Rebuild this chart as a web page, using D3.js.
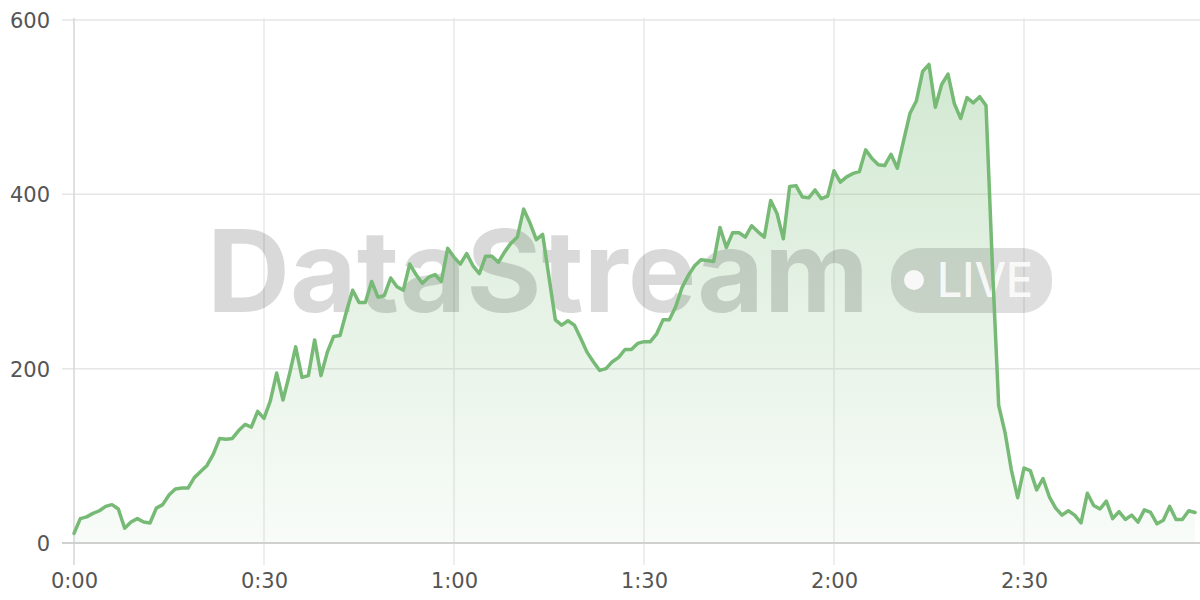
<!DOCTYPE html>
<html>
<head>
<meta charset="utf-8">
<script src="https://cdn.jsdelivr.net/npm/d3@7"></script>
<style>
  html, body { margin: 0; padding: 0; background: #ffffff; }
  svg { display: block; }
</style>
</head>
<body>
<svg id="chart" width="1200" height="600"></svg>
<script>
// ---- data (one value per minute, starting at 0:00) ----
const values = [
  11, 28, 30, 34, 37, 42, 44, 39, 17, 24,
  28, 24, 23, 40, 44, 55, 62, 63, 63, 75,
  82, 89, 102, 120, 119, 120, 129, 136, 133, 151,
  143, 163, 195, 164, 193, 225, 190, 192, 233, 192,
  219, 237, 238, 265, 290, 276, 276, 300, 282, 284,
  304, 294, 290, 320, 308, 298, 305, 308, 300, 338,
  328, 320, 332, 318, 309, 329, 329, 322, 334, 344,
  351, 383, 367, 348, 354, 305, 256, 250, 255, 250,
  235, 219, 208, 198, 200, 208, 213, 222, 222, 229,
  231, 231, 240, 256, 256, 271, 293, 307, 318, 325,
  324, 323, 362, 339, 356, 356, 351, 364, 357, 351,
  393, 378, 349, 409, 410, 397, 396, 405, 395, 398,
  427, 414, 420, 424, 426, 451, 441, 434, 433, 446,
  430, 462, 493, 507, 541, 549, 500, 526, 538, 504,
  487, 511, 505, 512, 502, 320, 158, 127, 84, 52,
  86, 83, 61, 74, 53, 40, 32, 37, 32, 23,
  57, 43, 39, 48, 28, 36, 27, 32, 24, 38,
  35, 22, 26, 42, 27, 27, 37, 35
];
const xTickValues = [0, 30, 60, 90, 120, 150];
const xTickLabels = ["0:00", "0:30", "1:00", "1:30", "2:00", "2:30"];
const yTickValues = [0, 200, 400, 600];
const yTickLabels = ["0", "200", "400", "600"];
const watermarkText = "DataStream";
const badgeText = "LIVE";

// ---- layout ----
const svg = d3.select("#chart");
const W = 1200, H = 600;
const mLeft = 74, mRight = 1195, mTop = 20, mBottom = 543;

const x = d3.scaleLinear().domain([0, values.length - 1]).range([mLeft, mRight]);
const y = d3.scaleLinear().domain([0, 600]).range([mBottom, mTop]);

const defs = svg.append("defs");
const grad = defs.append("linearGradient")
  .attr("id", "areaGrad")
  .attr("gradientUnits", "userSpaceOnUse")
  .attr("x1", 0).attr("x2", 0)
  .attr("y1", y(600)).attr("y2", y(0));
grad.append("stop").attr("offset", "0%").attr("stop-color", "#78bb78").attr("stop-opacity", 0.36);
grad.append("stop").attr("offset", "100%").attr("stop-color", "#78bb78").attr("stop-opacity", 0.05);

// ---- grid ----
const grid = svg.append("g");
grid.selectAll("line.h")
  .data(yTickValues.filter(v => v !== 0))
  .join("line")
  .attr("x1", mLeft - 12).attr("x2", W)
  .attr("y1", d => y(d)).attr("y2", d => y(d))
  .attr("stroke", "#e6e6e6").attr("stroke-width", 1.5);

grid.selectAll("line.v")
  .data(xTickValues)
  .join("line")
  .attr("x1", d => x(d)).attr("x2", d => x(d))
  .attr("y1", mTop - 2).attr("y2", mBottom + 22)
  .attr("stroke", d => d === 0 ? "#d6d6d6" : "#e8e8e8")
  .attr("stroke-width", 1.5);

// ---- area ----
const area = d3.area()
  .x((d, i) => x(i))
  .y0(y(0))
  .y1(d => y(d));
svg.append("path")
  .datum(values)
  .attr("d", area)
  .attr("fill", "url(#areaGrad)");

// ---- watermark ----
const wm = svg.append("g");
wm.append("text")
  .attr("x", 207).attr("y", 312)
  .attr("font-family", "Inter, 'Liberation Sans', sans-serif")
  .attr("font-weight", 700)
  .attr("font-size", 114)
  .attr("textLength", 662)
  .attr("lengthAdjust", "spacingAndGlyphs")
  .attr("fill", "rgba(0,0,0,0.15)")
  .text(watermarkText);
wm.append("rect")
  .attr("x", 891).attr("y", 248)
  .attr("width", 161).attr("height", 65)
  .attr("rx", 30).attr("ry", 30)
  .attr("fill", "rgba(0,0,0,0.13)");
wm.append("circle")
  .attr("cx", 914).attr("cy", 280).attr("r", 10)
  .attr("fill", "rgba(255,255,255,0.85)");
wm.append("text")
  .attr("x", 937).attr("y", 297)
  .attr("font-family", "Inter, 'Liberation Sans', sans-serif")
  .attr("font-weight", 500)
  .attr("font-size", 48)
  .attr("textLength", 96)
  .attr("lengthAdjust", "spacingAndGlyphs")
  .attr("fill", "rgba(255,255,255,0.85)")
  .text(badgeText);

// ---- baseline ----
svg.append("line")
  .attr("x1", mLeft - 12).attr("x2", W)
  .attr("y1", y(0)).attr("y2", y(0))
  .attr("stroke", "#d0d0d0").attr("stroke-width", 2);

// ---- line ----
const line = d3.line()
  .x((d, i) => x(i))
  .y(d => y(d));
svg.append("path")
  .datum(values)
  .attr("d", line)
  .attr("fill", "none")
  .attr("stroke", "#76ba76")
  .attr("stroke-width", 3.5)
  .attr("stroke-linejoin", "round")
  .attr("stroke-linecap", "round");

// ---- axes labels ----
const font = "'DejaVu Sans', sans-serif";
const yAxis = d3.axisLeft(y).tickValues(yTickValues)
  .tickFormat((d, i) => yTickLabels[i]).tickSize(0).tickPadding(0);
const gy = svg.append("g").attr("transform", `translate(${mLeft - 24},0)`).call(yAxis);
gy.select(".domain").remove();
gy.selectAll("text")
  .attr("font-family", font).attr("font-size", 21)
  .attr("fill", "#555555").attr("dy", "0.35em");

const xAxis = d3.axisBottom(x).tickValues(xTickValues)
  .tickFormat((d, i) => xTickLabels[i]).tickSize(0).tickPadding(0);
const gx = svg.append("g").attr("transform", `translate(0,${mBottom + 28})`).call(xAxis);
gx.select(".domain").remove();
gx.selectAll("text")
  .attr("font-family", font).attr("font-size", 21)
  .attr("fill", "#555555").attr("dy", "0.8em");
</script>
</body>
</html>
